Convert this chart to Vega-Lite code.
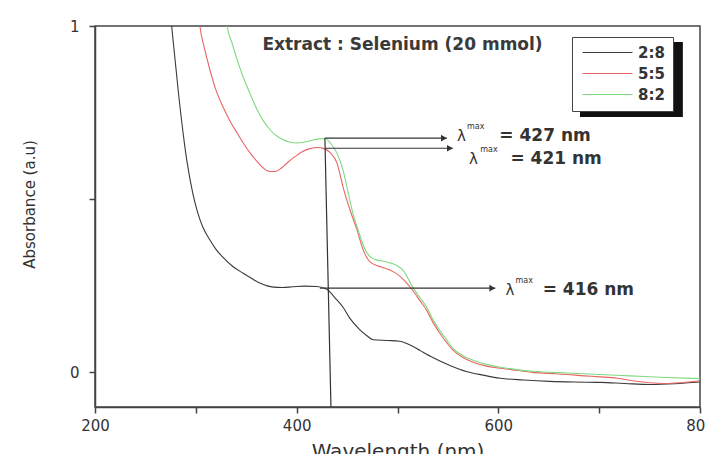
{
  "$schema": "https://vega.github.io/schema/vega-lite/v6.json",
  "width": 605,
  "height": 381,
  "autosize": {"type": "none"},
  "padding": {"left": 95, "top": 26, "right": 6, "bottom": 47},
  "background": "white",
  "config": {
    "view": {"stroke": "#444", "strokeWidth": 1.5},
    "font": "DejaVu Sans",
    "axis": {"grid": false, "domainColor": "#444", "domainWidth": 1.5, "tickColor": "#444", "tickWidth": 1.5, "tickSize": 6, "labelColor": "#333", "titleColor": "#333", "labelFont": "DejaVu Sans", "titleFont": "DejaVu Sans", "titleFontWeight": "normal", "labelFontSize": 15, "labelFlush": false}
  },
  "encoding": {
    "x": {"field": "x", "type": "quantitative", "scale": {"domain": [200, 800], "nice": false, "zero": false},
      "axis": {"values": [200, 300, 400, 500, 600, 700, 800], "labelExpr": "datum.value % 200 == 0 ? '' + datum.value : ''", "labelPadding": 5, "labelFlush": false, "labelOverlap": false, "title": "Wavelength (nm)", "titleFontSize": 20, "titlePadding": 8}},
    "y": {"field": "y", "type": "quantitative", "scale": {"domain": [-0.1, 1], "nice": false, "zero": false},
      "axis": {"values": [0, 0.5, 1], "labelExpr": "datum.value == 0 ? '0' : datum.value == 1 ? '1' : ''", "labelPadding": 10, "labelFlush": false, "title": "Absorbance (a.u)", "titleFontSize": 15, "titleX": -58, "titleY": 178}}
  },
  "layer": [
    {
      "data": {"values": [{"x": 681, "x2": 783, "y": 0.954, "y2": 0.737}]},
      "mark": {"type": "rect", "color": "#111"},
      "encoding": {"x2": {"field": "x2"}, "y2": {"field": "y2"}}
    },
    {
      "data": {"values": [
        {"s": "2:8", "x": 272, "y": 1.10}, {"s": "2:8", "x": 276, "y": 1.0}, {"s": "2:8", "x": 283, "y": 0.80}, {"s": "2:8", "x": 291, "y": 0.613}, {"s": "2:8", "x": 297, "y": 0.517}, {"s": "2:8", "x": 302, "y": 0.46}, {"s": "2:8", "x": 307, "y": 0.419}, {"s": "2:8", "x": 314, "y": 0.382}, {"s": "2:8", "x": 320, "y": 0.355}, {"s": "2:8", "x": 327, "y": 0.332}, {"s": "2:8", "x": 337, "y": 0.305}, {"s": "2:8", "x": 347, "y": 0.286}, {"s": "2:8", "x": 356, "y": 0.27}, {"s": "2:8", "x": 364, "y": 0.257}, {"s": "2:8", "x": 377, "y": 0.246}, {"s": "2:8", "x": 386, "y": 0.245}, {"s": "2:8", "x": 396, "y": 0.247}, {"s": "2:8", "x": 408, "y": 0.249}, {"s": "2:8", "x": 420, "y": 0.248}, {"s": "2:8", "x": 430, "y": 0.240}, {"s": "2:8", "x": 438, "y": 0.215}, {"s": "2:8", "x": 446, "y": 0.188}, {"s": "2:8", "x": 453, "y": 0.155}, {"s": "2:8", "x": 462, "y": 0.125}, {"s": "2:8", "x": 470, "y": 0.105}, {"s": "2:8", "x": 476, "y": 0.094}, {"s": "2:8", "x": 490, "y": 0.092}, {"s": "2:8", "x": 502, "y": 0.090}, {"s": "2:8", "x": 512, "y": 0.080}, {"s": "2:8", "x": 523, "y": 0.062}, {"s": "2:8", "x": 535, "y": 0.043}, {"s": "2:8", "x": 552, "y": 0.020}, {"s": "2:8", "x": 569, "y": 0.002}, {"s": "2:8", "x": 585, "y": -0.008}, {"s": "2:8", "x": 602, "y": -0.017}, {"s": "2:8", "x": 625, "y": -0.022}, {"s": "2:8", "x": 651, "y": -0.026}, {"s": "2:8", "x": 675, "y": -0.028}, {"s": "2:8", "x": 701, "y": -0.029}, {"s": "2:8", "x": 725, "y": -0.032}, {"s": "2:8", "x": 750, "y": -0.035}, {"s": "2:8", "x": 775, "y": -0.033}, {"s": "2:8", "x": 800, "y": -0.028},
        {"s": "5:5", "x": 300, "y": 1.12}, {"s": "5:5", "x": 304, "y": 1.0}, {"s": "5:5", "x": 309, "y": 0.93}, {"s": "5:5", "x": 314, "y": 0.873}, {"s": "5:5", "x": 320, "y": 0.815}, {"s": "5:5", "x": 327, "y": 0.766}, {"s": "5:5", "x": 334, "y": 0.725}, {"s": "5:5", "x": 341, "y": 0.691}, {"s": "5:5", "x": 348, "y": 0.658}, {"s": "5:5", "x": 354, "y": 0.633}, {"s": "5:5", "x": 361, "y": 0.608}, {"s": "5:5", "x": 367, "y": 0.590}, {"s": "5:5", "x": 373, "y": 0.580}, {"s": "5:5", "x": 379, "y": 0.580}, {"s": "5:5", "x": 385, "y": 0.590}, {"s": "5:5", "x": 391, "y": 0.606}, {"s": "5:5", "x": 398, "y": 0.622}, {"s": "5:5", "x": 405, "y": 0.636}, {"s": "5:5", "x": 413, "y": 0.646}, {"s": "5:5", "x": 421, "y": 0.649}, {"s": "5:5", "x": 427, "y": 0.646}, {"s": "5:5", "x": 433, "y": 0.635}, {"s": "5:5", "x": 440, "y": 0.604}, {"s": "5:5", "x": 446, "y": 0.535}, {"s": "5:5", "x": 453, "y": 0.468}, {"s": "5:5", "x": 460, "y": 0.410}, {"s": "5:5", "x": 466, "y": 0.353}, {"s": "5:5", "x": 473, "y": 0.318}, {"s": "5:5", "x": 480, "y": 0.308}, {"s": "5:5", "x": 486, "y": 0.302}, {"s": "5:5", "x": 493, "y": 0.295}, {"s": "5:5", "x": 499, "y": 0.285}, {"s": "5:5", "x": 506, "y": 0.268}, {"s": "5:5", "x": 515, "y": 0.237}, {"s": "5:5", "x": 522, "y": 0.208}, {"s": "5:5", "x": 529, "y": 0.179}, {"s": "5:5", "x": 535, "y": 0.145}, {"s": "5:5", "x": 542, "y": 0.113}, {"s": "5:5", "x": 549, "y": 0.085}, {"s": "5:5", "x": 555, "y": 0.064}, {"s": "5:5", "x": 565, "y": 0.043}, {"s": "5:5", "x": 575, "y": 0.029}, {"s": "5:5", "x": 588, "y": 0.018}, {"s": "5:5", "x": 602, "y": 0.012}, {"s": "5:5", "x": 618, "y": 0.006}, {"s": "5:5", "x": 634, "y": 0.0}, {"s": "5:5", "x": 651, "y": -0.003}, {"s": "5:5", "x": 668, "y": -0.006}, {"s": "5:5", "x": 685, "y": -0.010}, {"s": "5:5", "x": 701, "y": -0.013}, {"s": "5:5", "x": 718, "y": -0.017}, {"s": "5:5", "x": 735, "y": -0.025}, {"s": "5:5", "x": 750, "y": -0.030}, {"s": "5:5", "x": 765, "y": -0.032}, {"s": "5:5", "x": 780, "y": -0.030}, {"s": "5:5", "x": 800, "y": -0.024},
        {"s": "8:2", "x": 327, "y": 1.12}, {"s": "8:2", "x": 331, "y": 1.0}, {"s": "8:2", "x": 336, "y": 0.95}, {"s": "8:2", "x": 341, "y": 0.902}, {"s": "8:2", "x": 346, "y": 0.86}, {"s": "8:2", "x": 351, "y": 0.824}, {"s": "8:2", "x": 356, "y": 0.789}, {"s": "8:2", "x": 361, "y": 0.757}, {"s": "8:2", "x": 367, "y": 0.726}, {"s": "8:2", "x": 374, "y": 0.699}, {"s": "8:2", "x": 380, "y": 0.683}, {"s": "8:2", "x": 387, "y": 0.671}, {"s": "8:2", "x": 393, "y": 0.665}, {"s": "8:2", "x": 400, "y": 0.662}, {"s": "8:2", "x": 408, "y": 0.665}, {"s": "8:2", "x": 416, "y": 0.671}, {"s": "8:2", "x": 422, "y": 0.674}, {"s": "8:2", "x": 428, "y": 0.675}, {"s": "8:2", "x": 434, "y": 0.660}, {"s": "8:2", "x": 440, "y": 0.633}, {"s": "8:2", "x": 446, "y": 0.584}, {"s": "8:2", "x": 451, "y": 0.52}, {"s": "8:2", "x": 455, "y": 0.468}, {"s": "8:2", "x": 461, "y": 0.410}, {"s": "8:2", "x": 468, "y": 0.353}, {"s": "8:2", "x": 475, "y": 0.329}, {"s": "8:2", "x": 480, "y": 0.324}, {"s": "8:2", "x": 486, "y": 0.321}, {"s": "8:2", "x": 493, "y": 0.316}, {"s": "8:2", "x": 499, "y": 0.309}, {"s": "8:2", "x": 506, "y": 0.293}, {"s": "8:2", "x": 515, "y": 0.246}, {"s": "8:2", "x": 522, "y": 0.217}, {"s": "8:2", "x": 529, "y": 0.188}, {"s": "8:2", "x": 535, "y": 0.153}, {"s": "8:2", "x": 542, "y": 0.121}, {"s": "8:2", "x": 549, "y": 0.093}, {"s": "8:2", "x": 555, "y": 0.069}, {"s": "8:2", "x": 565, "y": 0.048}, {"s": "8:2", "x": 575, "y": 0.035}, {"s": "8:2", "x": 588, "y": 0.023}, {"s": "8:2", "x": 602, "y": 0.015}, {"s": "8:2", "x": 618, "y": 0.008}, {"s": "8:2", "x": 634, "y": 0.003}, {"s": "8:2", "x": 668, "y": -0.002}, {"s": "8:2", "x": 701, "y": -0.006}, {"s": "8:2", "x": 730, "y": -0.010}, {"s": "8:2", "x": 760, "y": -0.014}, {"s": "8:2", "x": 800, "y": -0.018}
      ]},
      "mark": {"type": "line", "clip": true, "strokeWidth": 1.1, "interpolate": "monotone"},
      "encoding": {
        "color": {"field": "s", "type": "nominal", "scale": {"domain": ["2:8", "5:5", "8:2"], "range": ["#3a3a3a", "#e86464", "#7fd97f"]},
          "legend": {"title": null, "orient": "none", "legendX": 477, "legendY": 11, "symbolType": "M-5,0H5", "symbolSize": 100, "symbolOffset": 20, "symbolStrokeWidth": 1.2, "labelFontSize": 15, "labelFontWeight": "bold", "labelColor": "#333", "labelOffset": 23, "rowPadding": 5, "padding": 8, "strokeColor": "#444", "fillColor": "white"}}
      }
    },
    {
      "data": {"values": [{"x": 428, "x2": 434, "y": 0.676, "y2": -0.1}]},
      "mark": {"type": "rule", "color": "#333", "strokeWidth": 1.2},
      "encoding": {"x2": {"field": "x2"}, "y2": {"field": "y2"}}
    },
    {
      "data": {"values": [{"x": 428, "x2": 549, "y": 0.676}, {"x": 428, "x2": 555, "y": 0.647}, {"x": 423, "x2": 597, "y": 0.243}]},
      "mark": {"type": "rule", "color": "#333", "strokeWidth": 1.2},
      "encoding": {"x2": {"field": "x2"}}
    },
    {
      "data": {"values": [{"x": 546, "y": 0.676}, {"x": 552, "y": 0.647}, {"x": 594, "y": 0.243}]},
      "mark": {"type": "point", "shape": "triangle-right", "filled": true, "size": 45, "color": "#333", "opacity": 1}
    },
    {
      "data": {"values": [{"x": 559, "y": 0.682}, {"x": 571, "y": 0.616}, {"x": 607, "y": 0.237}]},
      "mark": {"type": "text", "text": "λ", "align": "left", "baseline": "middle", "fontSize": 15, "color": "#333"}
    },
    {
      "data": {"values": [{"x": 569, "y": 0.708}, {"x": 582, "y": 0.642}, {"x": 617, "y": 0.263}]},
      "mark": {"type": "text", "text": "max", "align": "left", "baseline": "middle", "fontSize": 8, "color": "#333"}
    },
    {
      "data": {"values": [{"x": 601, "y": 0.682, "t": "= 427 nm"}, {"x": 612, "y": 0.616, "t": "= 421 nm"}, {"x": 644, "y": 0.237, "t": "= 416 nm"}]},
      "mark": {"type": "text", "align": "left", "baseline": "middle", "fontSize": 17, "fontWeight": "bold", "color": "#333"},
      "encoding": {"text": {"field": "t"}}
    },
    {
      "data": {"values": [{"x": 366, "y": 0.945, "t": "Extract : Selenium (20 mmol)"}]},
      "mark": {"type": "text", "align": "left", "baseline": "middle", "fontSize": 17, "fontWeight": "bold", "color": "#3a3a3a"},
      "encoding": {"text": {"field": "t"}}
    }
  ]
}
